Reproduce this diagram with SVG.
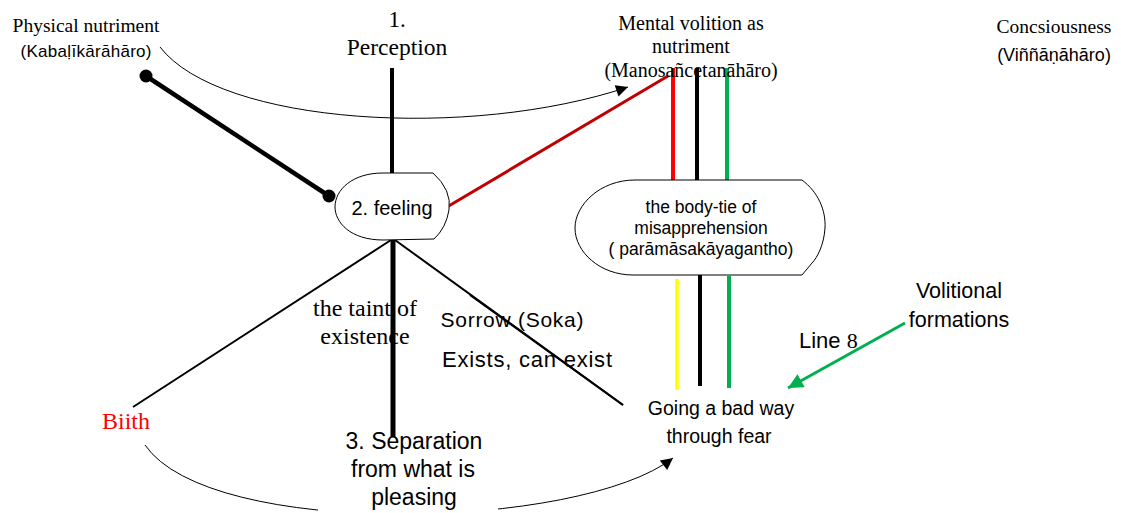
<svg xmlns="http://www.w3.org/2000/svg" width="1121" height="513" viewBox="0 0 1121 513">
<style>
.serif{font-family:"Liberation Serif","Times New Roman",serif;fill:#000}
.sans{font-family:"Liberation Sans",Arial,sans-serif;fill:#000}
.node{fill:#fff;stroke:#000;stroke-width:1}
.thin{fill:none;stroke:#000;stroke-width:1}
</style>
<defs>
<marker id="ah" viewBox="0 0 10 10" refX="10" refY="5" markerWidth="16" markerHeight="12" markerUnits="userSpaceOnUse" orient="auto">
<path d="M0,0 L10,5 L0,10 Z" fill="#000"/>
</marker>
<marker id="ahg" viewBox="0 0 10 10" refX="10" refY="5" markerWidth="20" markerHeight="15" markerUnits="userSpaceOnUse" orient="auto">
<path d="M0,0 L10,5 L0,10 Z" fill="#00b050"/>
</marker>
</defs>

<g id="connectors">
<path class="thin" d="M160,47 C220,125 470,140 628,87" marker-end="url(#ah)"/>
<path class="thin" d="M145,445 C210,540 580,530 673,458" marker-end="url(#ah)"/>
<line x1="146" y1="76" x2="329" y2="196" stroke="#000" stroke-width="4.5"/>
<circle cx="146" cy="76" r="6.5" fill="#000"/>
<circle cx="329" cy="196" r="6.5" fill="#000"/>
<line x1="392" y1="68" x2="392" y2="180" stroke="#000" stroke-width="4"/>
<line x1="447" y1="207" x2="668" y2="76" stroke="#c00000" stroke-width="3"/>
<line x1="673" y1="68" x2="673" y2="182" stroke="#ff0000" stroke-width="4"/>
<line x1="697" y1="68" x2="697" y2="181" stroke="#000" stroke-width="4"/>
<line x1="727" y1="68" x2="727" y2="182" stroke="#00b050" stroke-width="4"/>
<line x1="677" y1="279" x2="677" y2="390" stroke="#ffff00" stroke-width="3.5"/>
<line x1="700" y1="273" x2="700" y2="386" stroke="#000" stroke-width="4"/>
<line x1="729" y1="276" x2="729" y2="388" stroke="#00b050" stroke-width="4"/>
<line x1="391" y1="240" x2="133" y2="407" stroke="#000" stroke-width="2"/>
<line x1="395" y1="240" x2="623" y2="405" stroke="#000" stroke-width="2"/>
<line x1="905" y1="323" x2="788" y2="388" stroke="#00b050" stroke-width="3" marker-end="url(#ahg)"/>
</g>

<g id="physical-nutriment">
<text class="serif" x="86" y="32" font-size="19.5" text-anchor="middle">Physical nutriment</text>
<text class="sans" x="86" y="57" font-size="17" text-anchor="middle" textLength="131">(Kabaḷīkārāhāro)</text>
</g>

<g id="perception">
<text class="serif" x="397" y="27" font-size="23" text-anchor="middle">1.</text>
<text class="serif" x="397" y="55" font-size="23.5" text-anchor="middle">Perception</text>
</g>

<g id="mental-volition">
<text class="serif" x="691" y="30" font-size="20" text-anchor="middle">Mental volition as</text>
<text class="serif" x="691" y="53" font-size="20" text-anchor="middle">nutriment</text>
<text class="serif" x="691" y="77" font-size="20" text-anchor="middle">(Manosañcetanāhāro)</text>
</g>

<g id="consciousness">
<text class="serif" x="1054" y="33" font-size="19.5" text-anchor="middle">Concsiousness</text>
<text class="sans" x="1054" y="61" font-size="18" text-anchor="middle">(Viññāṇāhāro)</text>
</g>

<g id="feeling">
<path class="node" d="M383,173 L433,173 Q452,190 449,210 Q446,228 434,239 L383,240 C350,240 335,222 335,207 C335,190 352,173 383,173 Z"/>
<text class="sans" x="392" y="215" font-size="20" text-anchor="middle">2. feeling</text>
</g>

<g id="body-tie">
<path class="node" d="M635,180 L802,180 C818,192 826,210 825,228 C824,245 817,258 812,263 L802,275 L633,275 C600,275 575,252 575,228 C575,205 600,180 635,180 Z"/>
<text class="sans" x="701" y="213" font-size="17.5" text-anchor="middle">the body-tie of</text>
<text class="sans" x="701" y="234" font-size="17.5" text-anchor="middle">misapprehension</text>
<text class="sans" x="701" y="255" font-size="17.5" text-anchor="middle">( parāmāsakāyagantho)</text>
</g>

<g id="taint">
<text class="serif" x="365" y="316" font-size="24" text-anchor="middle">the taint of</text>
<text class="serif" x="365" y="344" font-size="24" text-anchor="middle">existence</text>
</g>
<line x1="393" y1="240" x2="393" y2="437" stroke="#000" stroke-width="5"/>

<g id="sorrow">
<text class="sans" x="512" y="327" font-size="21" text-anchor="middle" textLength="143">Sorrow (Soka)</text>
<text class="sans" x="527" y="367" font-size="22" text-anchor="middle" textLength="170">Exists, can exist</text>
</g>
<line x1="470" y1="295" x2="623" y2="405" stroke="#000" stroke-width="2"/>

<g id="biith">
<text class="serif" x="126" y="429" font-size="24" text-anchor="middle" style="fill:#ff0000">Biith</text>
</g>

<g id="separation">
<rect x="318" y="484" width="180" height="29" fill="#fff"/>
<text class="sans" x="414" y="449" font-size="23" text-anchor="middle">3. Separation</text>
<text class="sans" x="413" y="477" font-size="23" text-anchor="middle">from what is</text>
<text class="sans" x="414" y="505" font-size="23" text-anchor="middle">pleasing</text>
</g>

<g id="going-bad-way">
<text class="sans" x="721" y="415" font-size="19.5" text-anchor="middle">Going a bad way</text>
<text class="sans" x="719" y="443" font-size="19.5" text-anchor="middle">through fear</text>
</g>

<g id="volitional">
<text class="sans" x="959" y="298" font-size="21.5" text-anchor="middle">Volitional</text>
<text class="sans" x="959" y="327" font-size="21.5" text-anchor="middle">formations</text>
</g>

<g id="line8">
<text x="799" y="348" font-size="22"><tspan class="sans">Line </tspan><tspan class="serif">8</tspan></text>
</g>
</svg>
